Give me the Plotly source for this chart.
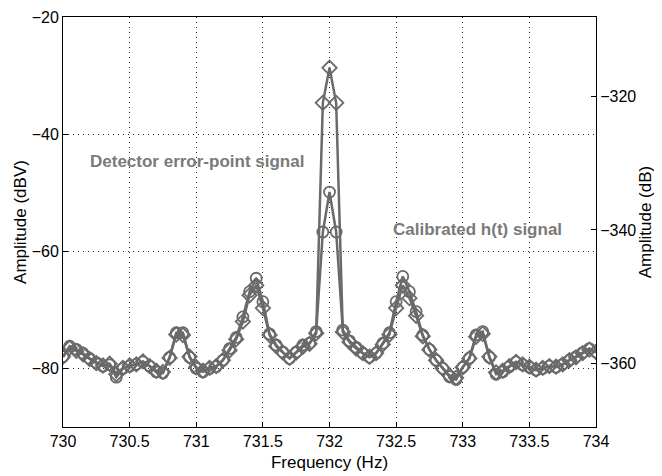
import plotly.graph_objects as go

freq = [730.00, 730.05, 730.10, 730.15, 730.20, 730.25, 730.30, 730.35, 730.40, 730.45,
        730.50, 730.55, 730.60, 730.65, 730.70, 730.75, 730.80, 730.85, 730.90, 730.95,
        731.00, 731.05, 731.10, 731.15, 731.20, 731.25, 731.30, 731.35, 731.40, 731.45,
        731.50, 731.55, 731.60, 731.65, 731.70, 731.75, 731.80, 731.85, 731.90, 731.95,
        732.00, 732.05, 732.10, 732.15, 732.20, 732.25, 732.30, 732.35, 732.40, 732.45,
        732.50, 732.55, 732.60, 732.65, 732.70, 732.75, 732.80, 732.85, 732.90, 732.95,
        733.00, 733.05, 733.10, 733.15, 733.20, 733.25, 733.30, 733.35, 733.40, 733.45,
        733.50, 733.55, 733.60, 733.65, 733.70, 733.75, 733.80, 733.85, 733.90, 733.95,
        734.00]

# Detector error-point signal (dBV, left axis)
detector_dbv = [-78.0, -76.5, -77.0, -77.6, -78.4, -79.1, -79.5, -79.2, -81.0, -79.9,
                -79.5, -79.3, -78.8, -79.6, -80.4, -80.6, -78.2, -74.2, -74.3, -78.0,
                -79.8, -80.4, -79.9, -79.6, -78.6, -76.9, -75.0, -72.0, -67.5, -65.8,
                -69.7, -74.3, -76.2, -77.3, -78.2, -77.3, -76.3, -75.8, -74.0, -34.65,
                -28.67, -34.65, -73.8, -75.5, -76.6, -77.4, -78.0, -77.4, -75.9, -74.2,
                -69.7, -65.8, -68.0, -71.0, -74.5, -76.8, -78.6, -80.0, -81.2, -81.6,
                -79.8, -78.3, -74.6, -74.1, -78.0, -80.7, -80.4, -79.6, -78.9, -79.3,
                -79.7, -80.2, -79.9, -79.6, -79.7, -79.3, -78.6, -78.1, -77.4, -76.8,
                -77.2]

# Calibrated h(t) signal (dB, right axis)
calibrated_db = [-359.04, -357.46, -357.94, -358.51, -359.30, -359.92, -360.45, -360.27, -362.12, -360.80,
                 -360.45, -360.18, -359.83, -360.45, -361.33, -361.50, -359.13, -355.43, -355.43, -359.13,
                 -360.80, -361.33, -360.80, -360.54, -359.57, -357.81, -356.14, -353.06, -349.27, -347.25,
                 -350.77, -355.61, -357.28, -358.34, -359.30, -358.34, -357.28, -357.02, -355.26, -340.3,
                 -334.3, -340.3, -355.04, -356.66, -357.63, -358.51, -359.13, -358.51, -357.02, -355.43,
                 -350.77, -346.98, -349.27, -352.26, -355.78, -357.94, -359.57, -360.80, -362.03, -362.47,
                 -360.62, -359.22, -355.78, -355.26, -359.13, -361.68, -361.33, -360.54, -359.83, -360.27,
                 -360.62, -361.06, -360.80, -360.45, -360.62, -360.18, -359.57, -359.04, -358.42, -357.81,
                 -358.34]

x_ticks = [730, 730.5, 731, 731.5, 732, 732.5, 733, 733.5, 734]
x_tick_text = ["730", "730.5", "731", "731.5", "732", "732.5", "733", "733.5", "734"]
left_ticks = [-80, -60, -40, -20]
right_ticks = [-360, -340, -320]

line_col = "#6a6a6a"
font_fam = "Liberation Sans, Arial, sans-serif"
grid_dash = "1px,4px"

fig = go.Figure()
fig.add_trace(go.Scatter(
    x=freq, y=detector_dbv, mode="lines+markers", name="Detector error-point signal",
    line=dict(color=line_col, width=2.5),
    marker=dict(symbol="diamond-open", size=11, color=line_col, line=dict(width=1.8, color=line_col)),
    yaxis="y"))
fig.add_trace(go.Scatter(
    x=freq, y=calibrated_db, mode="lines+markers", name="Calibrated h(t) signal",
    line=dict(color=line_col, width=2.5),
    marker=dict(symbol="circle-open", size=11, color=line_col, line=dict(width=1.8, color=line_col)),
    yaxis="y2"))

fig.add_annotation(x=731.005, y=-44.7, xref="x", yref="y", text="<b>Detector error-point signal</b>",
                   showarrow=False, font=dict(family=font_fam, size=17, color="#7a7a7a"))
fig.add_annotation(x=733.11, y=-56.2, xref="x", yref="y", text="<b>Calibrated h(t) signal</b>",
                   showarrow=False, font=dict(family=font_fam, size=17, color="#7a7a7a"))

fig.update_layout(
    width=662, height=476,
    margin=dict(l=55, r=74, t=9, b=57, autoexpand=False),
    paper_bgcolor="white", plot_bgcolor="white",
    showlegend=False,
    font=dict(family=font_fam, size=16, color="black"),
    xaxis=dict(range=[730, 734], tickvals=x_ticks, ticktext=x_tick_text,
               showgrid=True, gridcolor="#222222", griddash=grid_dash, gridwidth=1,
               showline=True, linecolor="black", linewidth=1, mirror=True,
               ticks="inside", ticklen=5, tickcolor="black", zeroline=False,
               tickfont=dict(size=16),
               title=dict(text="Frequency (Hz)", standoff=6, font=dict(size=17))),
    yaxis=dict(range=[-90, -20], tickvals=left_ticks,
               showgrid=True, gridcolor="#222222", griddash=grid_dash, gridwidth=1,
               showline=True, linecolor="black", linewidth=1,
               ticks="inside", ticklen=5, tickcolor="black", zeroline=False,
               tickfont=dict(size=16),
               title=dict(text="Amplitude (dBV)", standoff=0, font=dict(size=17))),
    yaxis2=dict(range=[-369.6, -308.0], tickvals=right_ticks, overlaying="y", side="right",
                showgrid=False, showline=True, linecolor="black", linewidth=1,
                ticks="inside", ticklen=5, tickcolor="black", zeroline=False,
                tickfont=dict(size=16),
                title=dict(text="Amplitude (dB)", standoff=2, font=dict(size=17))),
)

fig.write_html("out.html")
